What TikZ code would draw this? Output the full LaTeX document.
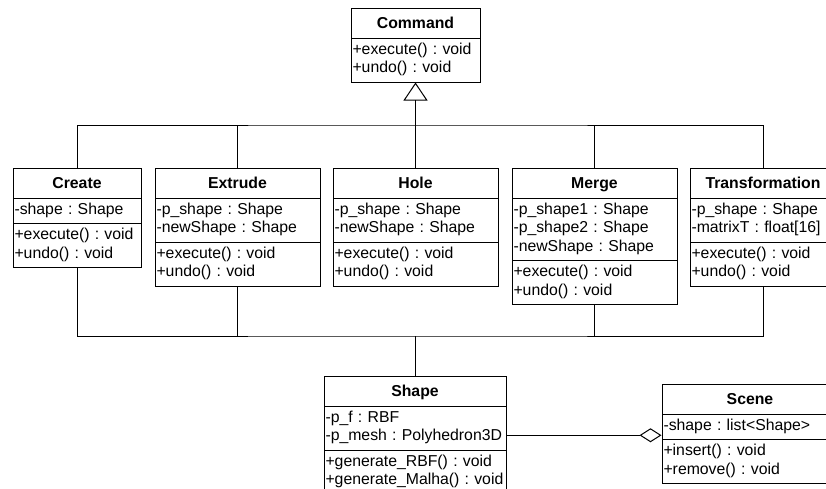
\documentclass[tikz,border=0pt]{standalone}
\usepackage{fontspec}
\setmainfont{Liberation Sans}
\usetikzlibrary{shapes.multipart,arrows.meta}
\newcommand\umlfont{\fontsize{15.8}{18.5}\selectfont\frenchspacing\hyphenpenalty=10000\relax}
\tikzset{
  umlclass/.style={
    draw, line width=1pt, anchor=north,
    rectangle split, rectangle split parts=3,
    align=left, text width=#1-3pt,
    inner xsep=1.5pt, inner ysep=3pt,
    font=\umlfont
  },
  umlline/.style={line width=1pt},
  umlgen/.style={-{Triangle[open,length=18pt,width=24pt,line width=1pt]}},
  umlagg/.style={-{Diamond[open,length=22pt,width=14pt,line width=1pt]}}
}
\newcommand\umlhead[1]{\centering\bfseries\rule[-6pt]{0pt}{22.5pt}#1\par}
\newcommand\umlrows[1]{\strut#1\strut}

\begin{document}
\begin{tikzpicture}[x=1pt,y=-1pt]
\clip (0,0) rectangle (826,488);
\node[umlclass=129pt,rectangle split parts=2] (command) at (415.5,8)
  {\umlhead{Command}
   \nodepart{two}\umlrows{+execute() : void\\+undo() : void}};
\node[umlclass=128pt] (create) at (77,168)
  {\umlhead{Create}
   \nodepart{two}\umlrows{-shape : Shape}
   \nodepart{three}\umlrows{+execute() : void\\+undo() : void}};
\node[umlclass=165pt] (extrude) at (237.5,168)
  {\umlhead{Extrude}
   \nodepart{two}\umlrows{-p\_shape : Shape\\-newShape : Shape}
   \nodepart{three}\umlrows{+execute() : void\\+undo() : void}};
\node[umlclass=165pt] (hole) at (415.5,168)
  {\umlhead{Hole}
   \nodepart{two}\umlrows{-p\_shape : Shape\\-newShape : Shape}
   \nodepart{three}\umlrows{+execute() : void\\+undo() : void}};
\node[umlclass=165pt] (merge) at (594.5,168)
  {\umlhead{Merge}
   \nodepart{two}\umlrows{-p\_shape1 : Shape\\-p\_shape2 : Shape\\-newShape : Shape}
   \nodepart{three}\umlrows{+execute() : void\\+undo() : void}};
\node[umlclass=146pt] (transformation) at (763,168)
  {\umlhead{Transformation}
   \nodepart{two}\umlrows{-p\_shape : Shape\\-matrixT : float[16]}
   \nodepart{three}\umlrows{+execute() : void\\+undo() : void}};
\node[umlclass=182pt] (shape) at (415,376)
  {\umlhead{Shape}
   \nodepart{two}\umlrows{-p\_f : RBF\\-p\_mesh : Polyhedron3D}
   \nodepart{three}\umlrows{+generate\_RBF() : void\\+generate\_Malha() : void}};
\node[umlclass=176pt] (scene) at (750,384)
  {\umlhead{Scene}
   \nodepart{two}\umlrows{-shape : list<Shape>}
   \nodepart{three}\umlrows{+insert() : void\\+remove() : void}};

\coordinate (genbus) at (415.5,125);
\coordinate (assocbus) at (415,336);
\draw[umlline] (create.north) |- (genbus) -| (transformation.north);
\draw[umlline] (extrude.north) -- (extrude.north |- genbus);
\draw[umlline] (merge.north) -- (merge.north |- genbus);
\draw[umlline] (hole.north) -- (genbus);
\draw[umlline,umlgen,line width=1.8pt] (genbus) -- (command.south);
\draw[umlline] (create.south) |- (assocbus) -| (transformation.south);
\draw[umlline] (extrude.south) -- (extrude.south |- assocbus);
\draw[umlline] (merge.south) -- (merge.south |- assocbus);
\draw[umlline] (assocbus) -- (shape.north);
\draw[umlline,umlagg] (shape.east) -- (shape.east -| scene.west);
\end{tikzpicture}
\end{document}
